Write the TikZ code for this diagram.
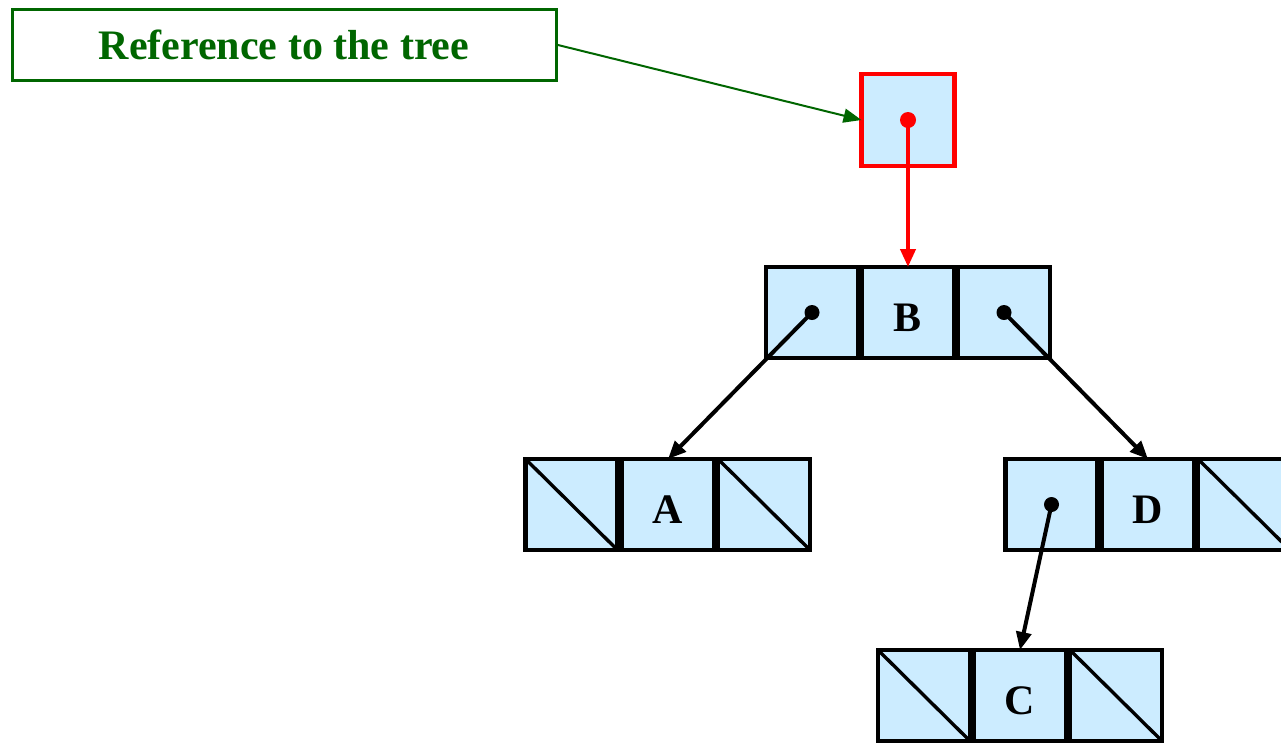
\documentclass[tikz,border=0pt]{standalone}
\usepackage{fontspec}
\setmainfont{Liberation Serif}
\usetikzlibrary{arrows.meta}
\definecolor{cellfill}{RGB}{204,236,255}
\definecolor{darkgreen}{RGB}{0,102,0}
\definecolor{refred}{RGB}{255,0,0}
\begin{document}
\begin{tikzpicture}[x=0.5pt,y=-0.5pt,
  cell/.style={draw=black,fill=cellfill,line width=2.1pt,rectangle,
    minimum width=46pt,minimum height=45.5pt,inner sep=0pt,outer sep=0pt,
    text height=18.9pt,text depth=0pt,
    font=\fontsize{21}{25}\selectfont\bfseries},
  nullcell/.style={cell,append after command={
    (\tikzlastnode.north west) edge[line width=1.7pt,black,shorten <=0.6pt,shorten >=0.6pt] (\tikzlastnode.south east)}},
  rootcell/.style={draw=refred,fill=cellfill,line width=2.1pt,rectangle,
    minimum width=46.5pt,minimum height=46pt,inner sep=0pt,outer sep=0pt},
  labelbox/.style={draw=darkgreen,line width=1.5pt,rectangle,fill=white,
    minimum width=272pt,minimum height=35.5pt,inner sep=0pt,outer sep=0pt,
    text=darkgreen,font=\fontsize{21}{25}\selectfont\bfseries},
  ptr/.style={line width=2pt,black,-{Triangle[length=9pt,width=7.5pt]}},
  dot/.style={fill=black,circle,inner sep=0pt,minimum size=7.5pt},
]
\clip (0,0) rectangle (1281,746);
\fill[white] (0,0) rectangle (1281,746);

% label and root reference
\node[labelbox] (lbl) at (284,44.5) {Reference to the tree};
\node[rootcell] (root) at (908,120) {};

% node B
\node[cell] (b1) at (812,312.5) {};
\node[cell] (b2) at (908,312.5) {B};
\node[cell] (b3) at (1004,312.5) {};

% node A
\node[nullcell] (a1) at (571.5,504.5) {};
\node[cell] (a2) at (668,504.5) {A};
\node[nullcell] (a3) at (764,504.5) {};

% node D
\node[cell] (d1) at (1051.5,504.5) {};
\node[cell] (d2) at (1148,504.5) {D};
\node[nullcell] (d3) at (1244,504.5) {};

% node C
\node[nullcell] (c1) at (924,695.5) {};
\node[cell] (c2) at (1020,695.5) {C};
\node[nullcell] (c3) at (1116,695.5) {};

% pointers
\draw[line width=1pt,darkgreen,-{Triangle[length=9pt,width=7pt]}] (lbl.east) -- (root.west);
\draw[line width=2pt,refred,-{Triangle[length=9pt,width=7.5pt]}] (root.center) -- (b2.north);
\node[dot,fill=refred,minimum size=8pt] at (root.center) {};

\draw[ptr] (b1.center) -- (a2.north);
\node[dot] at (b1.center) {};
\draw[ptr] (b3.center) -- (d2.north);
\node[dot] at (b3.center) {};
\draw[ptr] (d1.center) -- (c2.north);
\node[dot] at (d1.center) {};
\end{tikzpicture}
\end{document}
